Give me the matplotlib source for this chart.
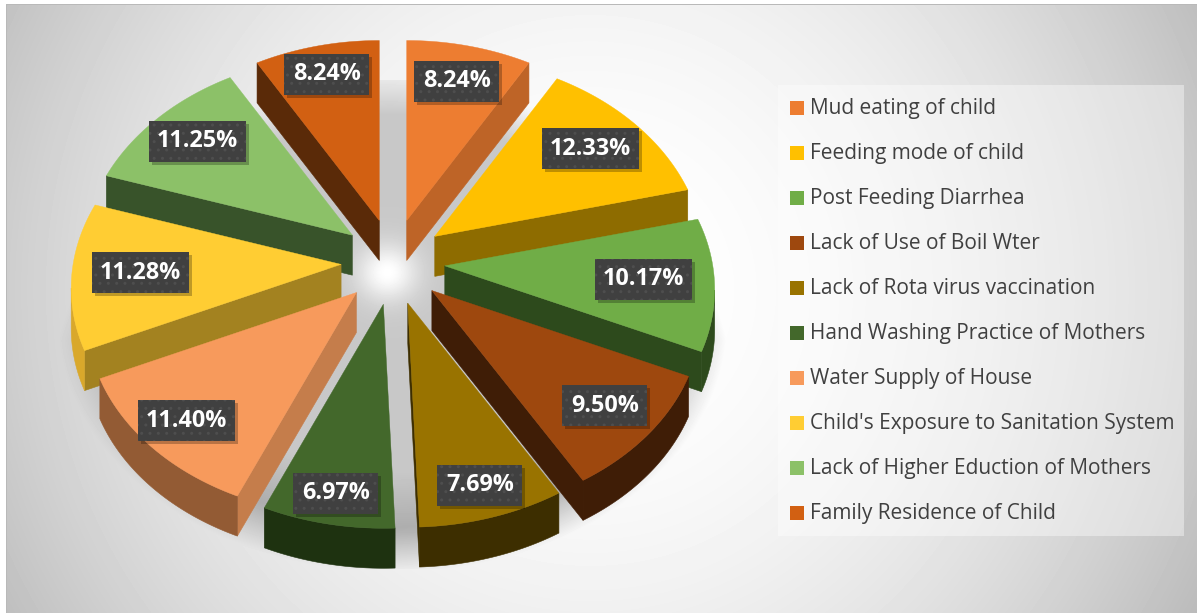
import numpy as np
import matplotlib
matplotlib.use("Agg")
import matplotlib.pyplot as plt
from matplotlib.patches import Polygon, Rectangle

# chart data
categories = ["Mud eating of child", "Feeding mode of child", "Post Feeding Diarrhea",
              "Lack of Use of Boil Wter", "Lack of Rota virus vaccination",
              "Hand Washing Practice of Mothers", "Water Supply of House",
              "Child's Exposure to Sanitation System", "Lack of Higher Eduction of Mothers",
              "Family Residence of Child"]
values = [8.24, 12.33, 10.17, 9.50, 7.69, 6.97, 11.40, 11.28, 11.25, 8.24]

top_colors = ["#ED7D31", "#FFC000", "#70AD47", "#9E480E", "#997300",
              "#43682B", "#F79A5C", "#FFCD33", "#8CC168", "#D26012"]
cut_colors = ["#BE6427", "#8E6C00", "#2D4A1C", "#3F1D06", "#3D2E00",
              "#1E3210", "#C57D4B", "#A38220", "#38532A", "#5A2A08"]
rim_colors = ["#BE6427", "#8E6C00", "#2D4A1C", "#3F1D06", "#3D2E00",
              "#1E3210", "#935B34", "#D9A82B", "#38532A", "#5A2A08"]
label_frac = [0.80, 0.78, 0.735, 0.80, 0.85, 0.86, 0.83, 0.745, 0.80, 0.84]

W, H = 1197, 613
cx, cy = 393, 262      # pie centre on the top face
expl_x, expl_y = 52, 43
depth = 40


# perspective: far side of the pie is a bit smaller than the near side
def rim_offset(t):
    rx = 268 - 32 * np.cos(t)
    ry = 202 - 22 * np.cos(t)
    return rx * np.sin(t), -ry * np.cos(t)


def extrude(xs, ys, col):
    # strip below the edge xs, ys
    pts = np.column_stack([np.concatenate([xs, xs[::-1]]),
                           np.concatenate([ys, ys[::-1] + depth])])
    ax.add_patch(Polygon(pts, closed=True, fc=col, ec=col, lw=0.4, zorder=2))


fig = plt.figure(figsize=(W / 100, H / 100), dpi=100)
ax = fig.add_axes([0, 0, 1, 1])

# background gradient and the soft shadow under the pie
yy, xx = np.mgrid[0:H, 0:W]
bg = 255 - 52 * (((xx - 590) / 600) ** 2 + ((yy - 290) / 600) ** 2)
shadow_rx = 335 - 80 * np.clip((340 - yy) / 260, 0, 1)
e = np.sqrt(((xx - 392) / shadow_rx) ** 2 + ((yy - 320) / 252) ** 2)
shadow = np.clip((1.0 - e) / 0.18, 0, 1)
shadow[(yy > 568) | (yy < 80)] = 0
# darker close to the near rim
target = 200 - 30 * np.clip((e - 0.6) / 0.25, 0, 1) * (yy > 300)
bg = bg * (1 - shadow) + target * shadow
hole = np.exp(-(((xx - 387) / 30) ** 2 + ((yy - 272) / 28) ** 2))
bg = bg * (1 - hole) + 255 * hole
bg[:4, :] = 255
bg[:, :6] = 255
bg[4, 6:] = 185
bg[4:, 6] = 185
ax.imshow(bg, cmap="gray", vmin=0, vmax=255, extent=(0, W, H, 0), aspect="auto", zorder=0)

total = sum(values)
edges = np.cumsum([0] + values) / total * 2 * np.pi
mids = (edges[:-1] + edges[1:]) / 2

order = np.argsort(-np.cos(mids))  # back slices first
for i in order:
    ax_, ay_ = cx + expl_x * np.sin(mids[i]), cy - expl_y * np.cos(mids[i])
    ts = np.linspace(edges[i], edges[i + 1], 80)
    ox, oy = rim_offset(ts)
    rim_x, rim_y = ax_ + ox, ay_ + oy

    # cut faces, only when the edge runs leftwards on screen (faces the viewer)
    if rim_x[0] < ax_:
        extrude(np.array([ax_, rim_x[0]]), np.array([ay_, rim_y[0]]), cut_colors[i])
    if rim_x[-1] > ax_:
        extrude(np.array([rim_x[-1], ax_]), np.array([rim_y[-1], ay_]), cut_colors[i])

    # outer wall, the part of the rim that runs leftwards
    going_left = np.diff(rim_x) < 0
    if going_left.any():
        first = np.argmax(going_left)
        last = len(going_left) - np.argmax(going_left[::-1])
        extrude(rim_x[first:last + 1], rim_y[first:last + 1], rim_colors[i])

    top = np.column_stack([np.concatenate([[ax_], rim_x]), np.concatenate([[ay_], rim_y])])
    ax.add_patch(Polygon(top, closed=True, fc=top_colors[i], ec=top_colors[i], lw=0.3, zorder=2))

# percentage labels
plt.rcParams["hatch.linewidth"] = 1.0
for i in range(len(values)):
    ax_, ay_ = cx + expl_x * np.sin(mids[i]), cy - expl_y * np.cos(mids[i])
    ox, oy = rim_offset(mids[i])
    lx, ly = ax_ + label_frac[i] * ox, ay_ + label_frac[i] * oy
    bw = 97 if values[i] >= 10 else 85
    ax.add_patch(Rectangle((lx - bw / 2 + 3, ly - 20.5 + 3), bw, 41, fc="black", alpha=0.25, lw=0, zorder=3))
    ax.add_patch(Rectangle((lx - bw / 2, ly - 20.5), bw, 41, fc="#404040", ec="#4E4E4E", hatch="..", lw=0, zorder=4))
    ax.text(lx, ly, f"{values[i]:.2f}%", color="white", fontsize=16.8, fontweight="bold",
            family="Open Sans", ha="center", va="center", zorder=5)

# legend panel
ax.add_patch(Rectangle((778, 85), 406, 451, fc="white", alpha=0.4, lw=0, zorder=1))
for i, name in enumerate(categories):
    y = 107.5 + 45 * i
    ax.add_patch(Rectangle((790, y - 7), 14, 14, fc=top_colors[i], lw=0, zorder=2))
    ax.text(810, y + 1, name, color="#404040", fontsize=15, family="Open Sans",
            ha="left", va="center", zorder=2)

ax.set_xlim(0, W)
ax.set_ylim(H, 0)
ax.axis("off")
fig.savefig("out.png", dpi=100)
